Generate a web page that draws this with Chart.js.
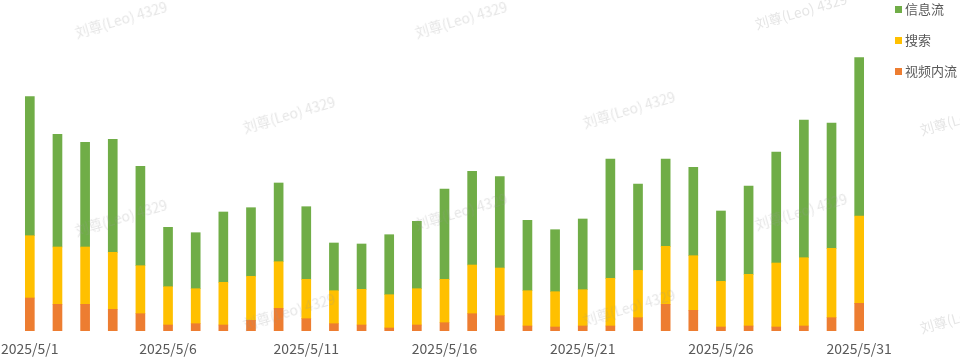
<!DOCTYPE html>
<html>
<head>
<meta charset="utf-8">
<script src="https://cdn.jsdelivr.net/npm/chart.js@4"></script>
<style>
  body { margin: 0; background: #fff; }
  #wrap { position: relative; width: 960px; height: 362px; overflow: hidden; }
  .legend { position: absolute; left: 895px; font: 13px "Noto Sans CJK SC", sans-serif; color: #595959; line-height: 16px; }
  .legend i { display: inline-block; width: 7px; height: 7px; margin-right: 3px; vertical-align: 1px; }
  .wm { position: absolute; font: 14px "Noto Sans CJK SC", sans-serif; color: rgba(150,150,150,0.25);
        transform: rotate(-16deg); transform-origin: left center; white-space: nowrap; pointer-events: none; }
</style>
</head>
<body>
<div id="wrap">
  <canvas id="c"></canvas>
</div>
<script>

// days of May 2025
const labels = ['2025/5/1','2025/5/2','2025/5/3','2025/5/4','2025/5/5','2025/5/6','2025/5/7','2025/5/8','2025/5/9','2025/5/10',
    '2025/5/11','2025/5/12','2025/5/13','2025/5/14','2025/5/15','2025/5/16','2025/5/17','2025/5/18','2025/5/19','2025/5/20',
    '2025/5/21','2025/5/22','2025/5/23','2025/5/24','2025/5/25','2025/5/26','2025/5/27','2025/5/28','2025/5/29','2025/5/30','2025/5/31'];

const seriesNames = ['视频内流', '搜索', '信息流'];

const videoFeed = [33, 26.7, 26.7, 21.7, 17.3, 6, 7.3, 6, 10.7, 22.7, 12.3, 7.3, 6, 3, 6, 8.3,
    17.3, 15.3, 5, 4, 5, 5, 13.3, 26.7, 20.7, 4, 5, 4, 5, 13.3, 27.7];

const search = [62.3, 57.3, 57.3, 57, 48, 38.3, 35, 42.7, 44, 46.6, 39.4, 33, 35.7, 33.3, 36.3, 43.4,
    48.7, 47.7, 35.3, 35.3, 36.3, 47.7, 47.3, 58, 54.6, 45.7, 51.7, 64, 68.3, 69.4, 87.3];

const infoFeed = [139, 112.7, 104.7, 113, 99.4, 59.4, 56, 70.3, 68.6, 78.7, 72.6, 47.7, 45.3, 60, 67.4, 90.3,
    93.7, 91.3, 70.4, 62, 70.7, 119.3, 86.3, 87.3, 88.4, 70.3, 88.3, 111, 137.7, 125.3, 158.3];

const colors = ['#ED7D31', '#FFC000', '#70AD47'];

const wrap = document.getElementById('wrap');

let datasets = [videoFeed, search, infoFeed].map(function(d, i){
    return {
        label: seriesNames[i],
        data: d,
        backgroundColor: colors[i],
        borderWidth: 0,
        barThickness: 9
    }
});

let config = {
    type: 'bar',
    data: { labels: labels, datasets: datasets },
    options: {
        responsive: true,
        maintainAspectRatio: false,
        animation: false,
        layout: { padding: { left: 16, right: 87, top: 31, bottom: 0 } },
        plugins: {
            legend: { display: false },
            tooltip: { enabled: false }
        },
        scales: {
            x: {
                stacked: true,
                grid: { display: false, drawTicks: false },
                border: { display: false },
                ticks: {
                    autoSkip: false,
                    maxRotation: 0,
                    padding: 9,
                    color: '#595959',
                    font: { size: 14, family: '"Noto Sans CJK SC", sans-serif' },
                    callback: function(v, i){ return i % 5 === 0 ? labels[i] : ''; }
                },
                // keep the plot area where the reference has it
                afterFit: function(scale){
                    scale.paddingLeft = 0;
                    scale.paddingRight = 0;
                    scale.height = 31;
                }
            },
            y: {
                stacked: true,
                display: false,
                min: 0,
                max: 300
            }
        }
    }
};

new Chart(document.getElementById('c'), config);

// legend, top to bottom
const legendItems = [['信息流', '#70AD47', 1], ['搜索', '#FFC000', 32], ['视频内流', '#ED7D31', 63]];
legendItems.forEach(function(it){
    let d = document.createElement('div');
    d.className = 'legend';
    d.style.top = it[2] + 'px';
    d.innerHTML = '<i style="background:' + it[1] + '"></i>' + it[0];
    wrap.appendChild(d);
});

// watermark
const wmPos = [[75, 30], [415, 30], [755, 22], [243, 125], [583, 120], [920, 128],
    [75, 228], [415, 222], [755, 222], [243, 322], [583, 318], [920, 326]];
wmPos.forEach(function(p){
    let d = document.createElement('div');
    d.className = 'wm';
    d.style.left = p[0] + 'px';
    d.style.top = (p[1] - 8) + 'px';
    d.textContent = '刘尊(Leo) 4329';
    wrap.appendChild(d);
});

</script>
</body>
</html>
